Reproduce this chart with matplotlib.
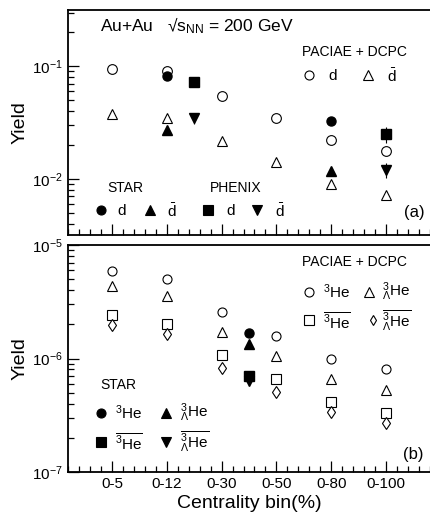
import numpy as np
import matplotlib
matplotlib.use('Agg')
import matplotlib.pyplot as plt
from matplotlib.ticker import FixedLocator, MultipleLocator, LogLocator, NullFormatter

plt.rcParams['font.family'] = ['Liberation Sans', 'DejaVu Sans']
plt.rcParams['mathtext.fontset'] = 'custom'
plt.rcParams['mathtext.rm'] = 'Liberation Sans'
plt.rcParams['mathtext.it'] = 'Liberation Sans:italic'

# categories
bins = ['0-5', '0-12', '0-30', '0-50', '0-80', '0-100']
xpos = np.arange(1, 7)

# panel (a): PACIAE+DCPC
pac_d = [0.095, 0.090, 0.054, 0.035, 0.022, 0.0175]
pac_dbar = [0.038, 0.035, 0.0215, 0.014, 0.009, 0.0071]
# STAR (0-12, 0-80)
star_x = [2, 5]
star_d = [0.082, 0.0325]
star_d_err = [0.004, 0.0015]
star_dbar = [0.0272, 0.0118]
star_dbar_err = [0.002, 0.0008]
# PHENIX (plotted between bins)
phenix_x = [2.5, 6]
phenix_d = [0.072, 0.025]
phenix_d_err = [0.002, 0.004]
phenix_dbar = [0.0348, 0.012]
phenix_dbar_err = [0.004, 0.0018]

# panel (b): PACIAE+DCPC
pac_he3 = [5.9e-6, 5.0e-6, 2.56e-6, 1.58e-6, 0.99e-6, 8.0e-7]
pac_hyp = [4.37e-6, 3.55e-6, 1.7e-6, 1.05e-6, 6.6e-7, 5.3e-7]
pac_he3bar = [2.44e-6, 2.0e-6, 1.07e-6, 6.6e-7, 4.15e-7, 3.3e-7]
pac_hypbar = [1.97e-6, 1.64e-6, 8.26e-7, 5.1e-7, 3.37e-7, 2.69e-7]
# STAR
star_b_x = 3.5
star_he3 = 1.67e-6
star_hyp = 1.33e-6
star_he3bar = 6.95e-7
star_hypbar = 6.3e-7

W, H = 431, 518
fig = plt.figure(figsize=(W/100, H/100), dpi=100)
ax1 = fig.add_axes([68/W, 1-235/H, 362/W, 225/H])
ax2 = fig.add_axes([68/W, 1-472/H, 362/W, 227/H])

ms = 6.5
mew = 0.8
def opn(ax, x, y, m, s=ms):
    ax.plot(x, y, ls='none', marker=m, ms=s, mfc='white', mec='black', mew=mew)
def fil(ax, x, y, m, s=ms, yerr=None):
    if yerr is not None:
        ax.errorbar(x, y, yerr=yerr, fmt='none', ecolor='black', elinewidth=0.8)
    ax.plot(x, y, ls='none', marker=m, ms=s, color='black')

# ---- panel (a)
opn(ax1, xpos, pac_d, 'o', 7)
opn(ax1, xpos, pac_dbar, '^', 7)
fil(ax1, star_x, star_d, 'o', 6.5, star_d_err)
fil(ax1, star_x, star_dbar, '^', 6.5, star_dbar_err)
fil(ax1, phenix_x, phenix_d, 's', 6.5, phenix_d_err)
fil(ax1, phenix_x, phenix_dbar, 'v', 6.5, phenix_dbar_err)

# ---- panel (b)
opn(ax2, xpos, pac_he3, 'o', 6.5)
opn(ax2, xpos, pac_hyp, '^', 7)
opn(ax2, xpos, pac_he3bar, 's', 6.5)
opn(ax2, xpos, pac_hypbar, 'd', 6)
fil(ax2, star_b_x, star_he3, 'o', 6.5)
fil(ax2, star_b_x, star_hyp, '^', 6.5)
fil(ax2, star_b_x, star_he3bar, 's', 6.5)
fil(ax2, star_b_x, star_hypbar, 'v', 6.5)

for ax, lo, hi in [(ax1, 10**-2.5, 10**-0.5), (ax2, 1e-7, 1e-5)]:
    ax.set_yscale('log')
    ax.set_ylim(lo, hi)
    ax.set_xlim(0.2, 6.8)
    ax.xaxis.set_major_locator(FixedLocator(xpos))
    ax.xaxis.set_minor_locator(MultipleLocator(0.2))
    ax.yaxis.set_minor_locator(LogLocator(base=10, subs=np.arange(2, 10)))
    ax.yaxis.set_minor_formatter(NullFormatter())
    ax.tick_params(which='major', direction='in', length=8, width=0.9, labelsize=11)
    ax.tick_params(which='minor', direction='in', length=4, width=0.9)
    ax.spines['right'].set_visible(False)
    ax.set_ylabel('Yield', fontsize=14)
    for s in ax.spines.values():
        s.set_linewidth(1.3)

ax1.set_yticks([1e-2, 1e-1])
ax1.set_yticklabels([r'$\mathregular{10^{-2}}$', r'$\mathregular{10^{-1}}$'])
ax1.set_xticklabels([])
ax2.set_yticks([1e-7, 1e-6, 1e-5])
ax2.set_yticklabels([r'$\mathregular{10^{-7}}$', r'$\mathregular{10^{-6}}$', r'$\mathregular{10^{-5}}$'])
ax2.set_xticklabels(bins)
ax2.set_xlabel('Centrality bin(%)', fontsize=14, labelpad=3)
ax1.yaxis.set_label_coords(-0.11, 0.5)
ax2.yaxis.set_label_coords(-0.11, 0.5)

fs = 11
def px(ax, x, y):
    # figure pixel -> axes fraction
    b = ax.get_position()
    return ((x/W) - b.x0)/b.width, ((1-y/H) - b.y0)/b.height

def txt(ax, x, y, s, **kw):
    xa, ya = px(ax, x, y)
    ax.text(xa, ya, s, transform=ax.transAxes, va='center', ha='left', fontsize=kw.pop('fontsize', fs), **kw)

def mk(ax, x, y, m, filled, s=ms):
    xa, ya = px(ax, x, y)
    ax.plot([xa], [ya], transform=ax.transAxes, marker=m, ms=s, ls='none',
            mfc='black' if filled else 'white', mec='black', mew=mew, clip_on=False)

# texts panel (a)
txt(ax1, 100, 26, r'Au+Au   √s$_{\mathregular{NN}}$ = 200 GeV', fontsize=12.5)
txt(ax1, 302, 52, 'PACIAE + DCPC', fontsize=10)
mk(ax1, 309, 75, 'o', False, 6.5); txt(ax1, 328, 76, 'd')
mk(ax1, 368, 75, '^', False, 6.5); txt(ax1, 387, 76, r'$\bar{\mathrm{d}}$')
txt(ax1, 107, 188, 'STAR', fontsize=10)
txt(ax1, 210, 188, 'PHENIX', fontsize=10)
mk(ax1, 101, 210, 'o', True, 6.5); txt(ax1, 117, 211, 'd')
mk(ax1, 150, 210, '^', True, 6.5); txt(ax1, 167, 211, r'$\bar{\mathrm{d}}$')
mk(ax1, 208, 210, 's', True, 6.5); txt(ax1, 226, 211, 'd')
mk(ax1, 257, 210, 'v', True, 6.5); txt(ax1, 275, 211, r'$\bar{\mathrm{d}}$')
txt(ax1, 404, 212, '(a)', fontsize=12)

# texts panel (b)
he3 = r'$^{3}\mathrm{He}$'
hyp = r'${}^{3}_{\Lambda}\mathrm{He}$'
he3bar = r'$\overline{^{3}\mathrm{He}}$'
hypbar = r'$\overline{{}^{3}_{\Lambda}\mathrm{He}}$'
txt(ax2, 302, 262, 'PACIAE + DCPC', fontsize=10)
mk(ax2, 309, 292, 'o', False, 6.5); txt(ax2, 323, 292, he3)
mk(ax2, 369, 292, '^', False, 6.5); txt(ax2, 382, 292, hyp)
mk(ax2, 309, 320, 's', False, 6.5); txt(ax2, 323, 321, he3bar)
mk(ax2, 373, 320, 'd', False, 5.5); txt(ax2, 382, 321, hypbar)
txt(ax2, 100, 385, 'STAR', fontsize=10)
mk(ax2, 101, 413, 'o', True, 6.5); txt(ax2, 115, 413, he3)
mk(ax2, 166, 413, '^', True, 6.5); txt(ax2, 180, 413, hyp)
mk(ax2, 101, 442, 's', True, 6.5); txt(ax2, 115, 442, he3bar)
mk(ax2, 166, 442, 'v', True, 6.5); txt(ax2, 180, 442, hypbar)
txt(ax2, 403, 455, '(b)', fontsize=12)

fig.savefig('out.png', dpi=100)
